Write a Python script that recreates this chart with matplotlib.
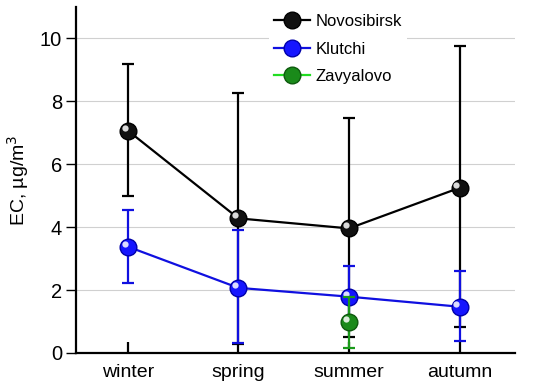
import matplotlib
matplotlib.use("Agg")
import matplotlib.pyplot as plt
import matplotlib.transforms as mtransforms
from matplotlib.lines import Line2D
import numpy as np

plt.rcParams['font.family'] = ['Liberation Sans', 'DejaVu Sans']

seasons = ["winter", "spring", "summer", "autumn"]

novo_mean = [7.07, 4.28, 3.96, 5.25]
novo_low = [5.0, 0.3, 0.5, 0.81]
novo_high = [9.2, 8.28, 7.48, 9.75]

klu_mean = [3.38, 2.07, 1.79, 1.47]
klu_low = [2.22, 0.31, 0.85, 0.38]
klu_high = [4.56, 3.91, 2.78, 2.59]

zav_x = [2]
zav_mean = [0.97]
zav_low = [0.17]
zav_high = [1.79]

fig = plt.figure(figsize=(5.5, 3.9), dpi=100)
ax = fig.add_axes([0.138, 0.095, 0.798, 0.887])

x = np.arange(len(seasons))

def draw(ax, xs, mean, low, high, line_c, err_c, face_c, edge_c, z):
    mean = np.array(mean); low = np.array(low); high = np.array(high)
    yerr = [mean - low, high - mean]
    ax.errorbar(xs, mean, yerr=yerr, fmt='none', ecolor=err_c, elinewidth=1.6,
                capsize=4.5, capthick=1.6, zorder=z)
    ax.plot(xs, mean, '-', color=line_c, lw=1.6, zorder=z + 0.1)
    ax.plot(xs, mean, 'o', ms=12, mfc=face_c, mec=edge_c, mew=1.0, zorder=z + 0.2)
    off = mtransforms.ScaledTranslation(-2.2 / 72, 2.2 / 72, fig.dpi_scale_trans)
    ax.plot(xs, mean, 'o', ms=4.5, mfc='white', mec='none', alpha=0.85,
            transform=ax.transData + off, zorder=z + 0.3)

draw(ax, x, novo_mean, novo_low, novo_high, 'black', 'black', '#111111', 'black', 3)
draw(ax, x, klu_mean, klu_low, klu_high, '#1010e0', '#1010e0', '#1515ff', '#0000aa', 4)
draw(ax, zav_x, zav_mean, zav_low, zav_high, '#1a9a1a', '#1a9a1a', '#1a8a1a', '#0d5a0d', 5)

ax.set_xlim(-0.47, 3.5)
ax.set_ylim(0, 11)
ax.set_yticks([0, 2, 4, 6, 8, 10])
ax.set_xticks(x)
ax.set_xticklabels(seasons)
ax.yaxis.grid(True, color='#d0d0d0', lw=0.8, zorder=0)
ax.set_axisbelow(True)
for s in ['top', 'right']:
    ax.spines[s].set_visible(False)
for s in ['left', 'bottom']:
    ax.spines[s].set_linewidth(1.6)
ax.tick_params(axis='x', direction='in', length=8, width=1.6, labelsize=14, pad=8)
ax.tick_params(axis='y', direction='out', length=7, width=1.0, labelsize=14.5, pad=3)
ax.set_ylabel(r"EC, µg/m$^{3}$", fontsize=14, labelpad=6)

def handle(line_c, face_c, edge_c):
    return Line2D([0], [0], color=line_c, lw=1.6, marker='o', ms=12,
                  mfc=face_c, mec=edge_c)

handles = [handle('black', '#111111', 'black'),
           handle('#1010e0', '#1515ff', '#0000aa'),
           handle('#22dd22', '#1a8a1a', '#0d5a0d')]
leg = ax.legend(handles, ["Novosibirsk", "Klutchi", "Zavyalovo"],
                loc='upper left', bbox_to_anchor=(0.42, 1.018), frameon=True,
                fontsize=12, handlelength=2.2, handletextpad=0.3,
                labelspacing=0.75, borderpad=0.3)
leg.get_frame().set_edgecolor('none')
leg.get_frame().set_facecolor('white')
leg.get_frame().set_alpha(1)

fig.savefig("out.png", dpi=100)
